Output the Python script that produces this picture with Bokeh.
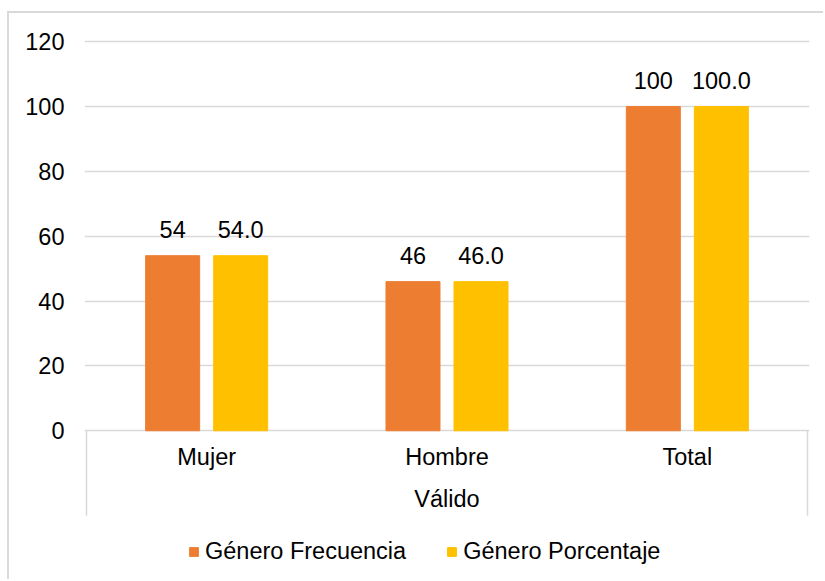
from bokeh.plotting import figure
from bokeh.models import ColumnDataSource, FixedTicker, Range1d, Legend, LegendItem
from bokeh.transform import dodge
from bokeh.core.properties import value
from bokeh.embed import file_html
from bokeh.resources import INLINE

group = "Válido"
categories = ["Mujer", "Hombre", "Total"]
frecuencia = [54, 46, 100]
porcentaje = [54.0, 46.0, 100.0]
frec_labels = ["54", "46", "100"]
porc_labels = ["54.0", "46.0", "100.0"]
series_names = ["Género Frecuencia", "Género Porcentaje"]
y_ticks = [0, 20, 40, 60, 80, 100, 120]

FONT = "Liberation Sans"
FS = "23.5px"
ORANGE = "#ED7D31"
YELLOW = "#FFC000"
GRID = "#D9D9D9"

n = len(categories)
xc = [i + 0.5 for i in range(n)]          # category centres on the category scale
src = ColumnDataSource(dict(x=xc, frec=frecuencia, porc=porcentaje,
                            fl=frec_labels, pl=porc_labels))

EPS = 0.0083
Y_END = 121
Y_START = -46.5                            # room under the axis: category area + legend
SEP_BOTTOM = -26.2
p = figure(width=816, height=568, x_range=Range1d(-EPS, n + EPS),
           y_range=Range1d(Y_START, Y_END),
           output_backend="svg", toolbar_location=None, x_axis_location=None,
           min_border_left=75, min_border_right=16, min_border_top=25, min_border_bottom=0)
p.margin = (11, 0, 0, 7)
p.styles = {"border-top": "2px solid #D9D9D9", "border-left": "2px solid #D9D9D9"}

r1 = p.vbar(x=dodge("x", -0.1415), top="frec", width=0.2247, source=src, color=ORANGE)
r2 = p.vbar(x=dodge("x", 0.1415), top="porc", width=0.2247, source=src, color=YELLOW)

p.text(x=dodge("x", -0.1415), y="frec", text="fl", source=src,
       text_align="center", text_baseline="alphabetic", y_offset=-26,
       text_font=value(FONT), text_font_size=FS, text_color="#000000")
p.text(x=dodge("x", 0.1415), y="porc", text="pl", source=src,
       text_align="center", text_baseline="alphabetic", y_offset=-26,
       text_font=value(FONT), text_font_size=FS, text_color="#000000")

# category axis area: labels, group label and edge separators
p.text(x=xc, y=[0] * n, text=categories, text_align="center", text_baseline="alphabetic",
       y_offset=26, text_font=value(FONT), text_font_size=FS, text_color="#000000")
p.text(x=[n / 2], y=[0], text=[group], text_align="center", text_baseline="alphabetic",
       y_offset=68, text_font=value(FONT), text_font_size=FS, text_color="#000000")
p.segment(x0=[0, n], y0=[0, 0], x1=[0, n], y1=[SEP_BOTTOM, SEP_BOTTOM],
          line_color=GRID, line_width=1.5)

p.outline_line_color = None
p.xgrid.grid_line_color = None
p.ygrid.grid_line_color = GRID
p.ygrid.grid_line_width = 1.3
p.yaxis.ticker = FixedTicker(ticks=y_ticks)
p.yaxis.axis_line_color = None
p.yaxis.major_tick_line_color = None
p.yaxis.minor_tick_line_color = None
p.yaxis.major_tick_out = 0
p.yaxis.major_label_standoff = 20
p.yaxis.major_label_text_font = FONT
p.yaxis.major_label_text_font_size = FS
p.yaxis.major_label_text_color = "#000000"

leg = Legend(items=[LegendItem(label=series_names[0], renderers=[r1]),
                    LegendItem(label=series_names[1], renderers=[r2])])
leg.orientation = "horizontal"
leg.location = (104, 16)
leg.border_line_color = None
leg.background_fill_alpha = 0
leg.padding = 0
leg.margin = 0
leg.glyph_width = 11
leg.glyph_height = 11
leg.label_standoff = 6
leg.spacing = 40
leg.label_text_font = FONT
leg.label_text_font_size = FS
leg.label_text_color = "#000000"
p.add_layout(leg, "center")

open("out.html", "w").write(file_html(p, INLINE))
